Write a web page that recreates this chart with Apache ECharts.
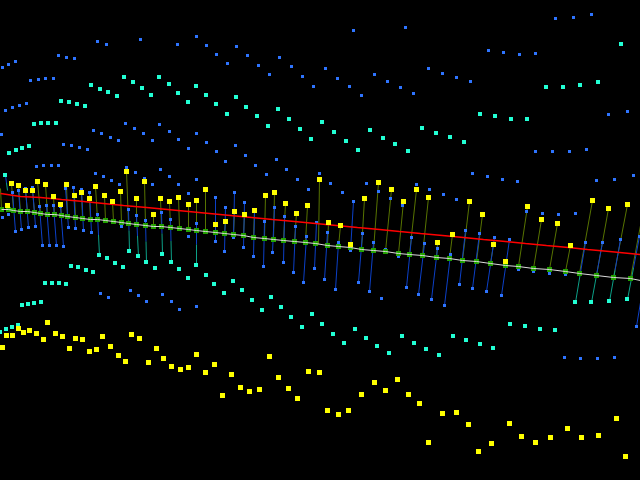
<!DOCTYPE html>
<html>
<head>
<meta charset="utf-8">
<style>
  html, body { margin: 0; padding: 0; background: #000; }
  #chart { width: 640px; height: 480px; }
</style>
<script src="https://cdn.jsdelivr.net/npm/echarts@6/dist/echarts.min.js"></script>
</head>
<body>
<div id="chart"></div>
<script>
// projected positions, [x, y]
const bluePoints = [
  [2,67],[8,64],[15,61],[58,55],[66,57],[74,58],[97,41],[106,44],[140,39],[177,44],[196,36],[206,45],
  [30,80],[38,79],[45,78],[53,78],[5,110],[12,107],[19,105],[26,103],[1,134],[63,144],[71,145],[79,147],[87,149],
  [93,130],[101,133],[110,137],[118,140],[125,123],[134,128],[143,133],[152,140],[159,124],[169,131],[178,139],[188,148],
  [196,133],[206,142],[353,30],[405,27],[236,46],[216,54],[247,55],[227,63],[258,65],[269,74],
  [279,57],[291,66],[302,76],[313,86],[325,68],[337,78],[349,86],[361,95],[374,74],[387,81],[400,87],[413,93],
  [235,145],[216,151],[245,155],[276,159],[555,18],[573,17],[591,14],[488,50],[503,52],[519,54],[535,53],
  [428,68],[442,73],[456,77],[470,81],[608,114],[627,111],[535,151],[552,151],[569,151],[586,149],
  [36,166],[43,165],[51,165],[58,165],[95,173],[103,176],[111,180],[119,184],[126,167],[135,172],[144,178],[152,184],
  [160,169],[169,176],[178,184],[188,193],[196,179],[32,187],[25,188],[73,187],[65,188],[81,189],[89,192],[97,214],[12,192],[18,190],
  [39,206],[46,205],[53,205],[60,206],[2,217],[8,214],[15,231],[21,229],[28,227],[35,226],[42,245],[49,245],[56,245],[63,246],
  [68,227],[75,228],[83,230],[91,232],[121,226],[128,209],[136,215],[145,220],[161,212],[170,219],[196,223],[188,236],
  [100,293],[108,297],[130,290],[138,295],[146,301],[162,294],[171,301],[179,309],[196,306],
  [225,161],[255,165],[286,169],[266,174],[297,179],[308,189],[319,173],[330,183],[342,192],[366,183],[378,191],[390,198],[402,205],[416,184],
  [215,197],[234,192],[244,202],[225,207],[264,221],[274,207],[284,216],[295,226],[306,236],[316,222],[327,232],[338,242],[353,201],[362,233],[373,242],[385,249],[398,256],[411,237],[424,243],
  [215,241],[224,251],[233,237],[243,247],[253,256],[263,266],[272,252],[283,262],[293,272],[303,282],[314,268],[324,279],[335,289],[350,250],[358,282],[369,291],[381,298],[406,287],[418,294],
  [429,189],[443,194],[456,199],[472,173],[487,176],[502,179],[517,181],[596,180],[614,179],[633,175],
  [465,230],[479,233],[494,237],[509,239],[542,213],[558,214],[575,213],[526,211],[437,248],[450,254],[585,242],[602,242],[620,239],[639,236],
  [431,299],[444,305],[459,284],[472,288],[486,291],[501,295],[518,269],[533,271],[549,273],[565,274],
  [564,357],[580,358],[597,358],[614,357],[636,326]
];
const tealPoints = [
  [91,85],[100,89],[108,92],[117,96],[124,77],[133,82],[142,88],[151,95],[159,77],[169,84],[178,93],[188,102],[196,86],[206,95],
  [61,101],[69,102],[77,104],[85,106],[34,124],[41,123],[48,123],[56,123],[9,153],[16,150],[22,148],[29,146],
  [216,104],[236,97],[246,107],[227,114],[257,116],[268,126],[278,109],[289,119],[300,129],[311,139],[322,122],[334,132],[346,141],[358,150],
  [370,130],[383,138],[395,144],[408,151],[422,128],[621,44],[546,87],[563,87],[580,85],[598,82],
  [480,114],[495,116],[511,119],[527,119],[436,133],[450,137],[464,142],[5,175],
  [99,255],[107,258],[115,263],[123,267],[129,251],[138,256],[146,262],[155,268],[162,254],[171,262],[179,269],[188,278],[196,265],[206,275],[214,284],
  [71,266],[78,267],[86,270],[93,272],[45,283],[52,283],[59,283],[66,284],[22,305],[28,304],[34,303],[41,302],
  [224,293],[233,281],[242,290],[252,300],[262,310],[271,297],[281,307],[291,317],[312,314],
  [575,302],[591,302],[609,301],[627,299],[0,332],[6,329],[12,327],[18,325],
  [302,327],[322,324],[333,334],[344,343],[355,329],[366,338],[377,346],[389,353],[402,336],[414,343],[426,349],
  [439,355],[453,336],[466,340],[480,344],[493,348],[510,324],[525,326],[540,329],[555,330]
];
const yellowPoints = [
  [11,183],[18,185],[25,190],[32,190],[7,205],[37,181],[45,184],[53,196],[60,204],[66,184],[74,195],[81,192],[89,198],
  [95,186],[104,195],[112,201],[126,171],[120,191],[136,198],[144,181],[153,214],[160,198],[169,201],[178,197],[188,204],[196,200],[205,189],
  [215,224],[225,221],[234,211],[244,214],[254,210],[265,195],[274,192],[285,203],[296,213],[307,205],[319,179],[328,222],[340,225],[350,244],
  [364,198],[378,182],[391,189],[403,201],[416,189],[428,197],[469,201],[482,214],[452,234],[437,242],[493,244],[505,261],
  [527,206],[541,219],[557,223],[570,245],[592,200],[608,208],[627,204],
  [47,322],[18,328],[23,332],[29,330],[36,333],[43,339],[6,335],[12,335],[55,333],[62,336],[75,338],[82,339],[102,336],[131,334],[139,338],
  [2,347],[69,348],[89,351],[96,349],[110,346],[118,355],[125,361],[156,348],[163,358],[171,366],[180,369],[188,367],[196,354],[205,372],[148,362],[214,364],
  [269,356],[231,374],[222,395],[240,387],[249,391],[259,389],[278,377],[288,388],[297,398],[308,371],[319,372],[327,410],[338,414],[348,410],
  [361,394],[374,382],[385,390],[397,379],[408,394],[419,403],[428,442],
  [442,413],[456,412],[468,424],[478,451],[491,443],[509,423],[521,436],[535,442],[550,437],[567,428],[581,437],[598,435],[616,418],[625,456]
];

// the two long lines
const redLine = [
  [0,193],[20,196],[40,197],[61,199],[83,201],[103,203],[123,205],[146,207],[167,209],[188,211],[209,213],[230,215],[251,217],[272,219],[294,221],[315,223],
  [336,225],[357,227],[379,229],[399,231],[420,233],[442,235],[463,237],[483,239],[505,241],[525,243],[546,245],[568,247],[587,249],[609,251],[640,254]
];
const greenLine = [
  [1,209],[8,209],[13,210],[20,211],[27,211],[34,212],[40,213],[47,214],[54,214],[61,215],[67,216],[75,217],[82,218],[90,219],[97,219],[105,220],
  [113,221],[121,222],[128,223],[136,224],[145,225],[153,226],[161,226],[170,227],[179,228],[188,229],[196,230],[205,231],[215,232],[224,233],[233,234],[243,235],
  [253,237],[264,238],[273,239],[283,240],[294,241],[305,242],[315,243],[327,245],[338,246],[350,247],[361,249],[373,250],[385,251],[398,253],[409,254],[422,255],
  [436,257],[449,258],[462,260],[476,261],[490,263],[505,265],[518,266],[533,268],[549,269],[565,271],[579,273],[596,275],[613,277],[630,278],[640,280]
];

// stems, [x1, y1, x2, y2]
const oliveStems = [
  [0,188,1,209],[7,205,8,209],[11,183,13,210],[18,185,20,211],[25,190,27,211],[32,190,34,212],[37,181,40,213],[45,184,47,214],[53,196,54,214],[60,204,61,215],
  [66,184,67,216],[74,195,75,217],[81,192,82,218],[89,198,90,219],[95,186,97,219],[104,195,105,220],[112,201,113,221],[120,191,121,222],[126,171,128,223],[136,198,136,224],
  [144,181,145,225],[153,214,153,226],[160,198,161,226],[169,201,170,227],[178,197,179,228],[188,204,188,229],[196,200,196,230],[205,189,205,231],[215,224,215,232],[225,221,224,233],
  [234,211,233,234],[244,214,243,235],[254,210,253,237],[265,195,264,238],[274,192,273,239],[285,203,283,240],[296,213,294,241],[307,205,305,242],[319,179,318,244],[328,222,327,245],
  [340,225,338,246],[350,244,350,247],[364,198,361,249],[378,182,373,250],[391,189,385,251],[403,201,398,253],[416,189,409,254],[428,197,422,255],[437,242,436,257],[452,234,449,258],
  [469,201,462,260],[482,214,476,261],[493,244,490,263],[505,261,505,265],[527,206,518,266],[541,219,533,268],[557,223,549,269],[570,245,565,271],[592,200,579,273],[608,208,596,275],
  [627,204,613,277],[640,225,630,278]
];
const blueStems = [
  [12,192,15,231],[18,190,21,229],[25,188,28,227],[32,187,35,226],[39,206,42,245],[46,205,49,245],[53,205,56,245],[60,206,63,246],
  [65,188,68,227],[73,187,75,228],[81,189,83,230],[89,192,91,232],
  [215,197,215,241],[225,207,224,251],[234,192,233,237],[244,202,243,247],[254,212,253,256],[264,221,263,266],[274,207,272,252],[284,216,283,262],
  [295,226,293,272],[306,236,303,282],[316,222,314,268],[327,232,324,279],[338,242,335,289],[353,201,350,250],[362,233,358,282],[373,242,369,291],
  [411,237,406,287],[424,243,418,294],[437,248,431,299],[450,254,444,305],[465,230,459,284],[479,233,472,288],[494,237,486,291],[509,239,501,295],
  [641,296,636,326]
];
// these run from blue above the line to teal below it
const tealStems = [
  [5,175,7,190],[97,214,99,255],[128,209,129,251],[136,215,138,256],[145,220,146,262],[161,212,162,254],[170,219,171,262],[196,223,196,265],
  [585,242,575,302],[602,242,591,302],[620,239,609,301],[639,236,627,299]
];

const BLUE = '#2e74ff';
const TEAL = '#22ffd4';
const YELLOW = '#ffff00';
const STEM_BLUE = '#0c40c8';
const STEM_TEAL = '#0ca088';
const STEM_OLIVE = '#587400';

const stemSeries = (data, color) => ({
  type: 'custom',
  silent: true,
  data,
  z: 1,
  renderItem: (params, api) => {
    const a = api.coord([api.value(0), api.value(1)]);
    const b = api.coord([api.value(2), api.value(3)]);
    return {
      type: 'line',
      shape: { x1: a[0], y1: a[1], x2: b[0], y2: b[1] },
      style: { stroke: color, lineWidth: 1, fill: null }
    };
  }
});

const tealStemSeries = (data) => ({
  type: 'custom',
  silent: true,
  data,
  z: 1,
  renderItem: (params, api) => {
    const a = api.coord([api.value(0), api.value(1)]);
    const b = api.coord([api.value(2), api.value(3)]);
    const mid = [(a[0] + b[0]) / 2, (a[1] + b[1]) / 2];
    return {
      type: 'group',
      children: [
        { type: 'line', shape: { x1: a[0], y1: a[1], x2: mid[0], y2: mid[1] }, style: { stroke: STEM_BLUE, lineWidth: 1 } },
        { type: 'line', shape: { x1: mid[0], y1: mid[1], x2: b[0], y2: b[1] }, style: { stroke: STEM_TEAL, lineWidth: 1 } }
      ]
    };
  }
});

const chart = echarts.init(document.getElementById('chart'));
chart.setOption({
  backgroundColor: '#000',
  animation: false,
  tooltip: { show: false },
  grid: { left: 0, right: 0, top: 0, bottom: 0 },
  xAxis: { type: 'value', min: -0.5, max: 639.5, show: false },
  yAxis: { type: 'value', min: -0.5, max: 479.5, inverse: true, show: false },
  series: [
    stemSeries(oliveStems, STEM_OLIVE),
    stemSeries(blueStems, STEM_BLUE),
    tealStemSeries(tealStems),
    { type: 'scatter', data: bluePoints, symbol: 'rect', symbolSize: 3, itemStyle: { color: BLUE, opacity: 1 }, silent: true, z: 2 },
    { type: 'scatter', data: tealPoints, symbol: 'rect', symbolSize: 4, symbolOffset: [-0.5, -0.5], itemStyle: { color: TEAL, opacity: 1 }, silent: true, z: 2 },
    { type: 'scatter', data: greenLine.slice(0, -1), symbol: 'rect', symbolSize: 5, itemStyle: { color: '#22a000', opacity: 1 }, silent: true, z: 3 },
    { type: 'line', data: greenLine, symbol: 'none', lineStyle: { color: '#dcdcdc', width: 1 }, silent: true, z: 4 },
    { type: 'line', data: redLine, symbol: 'none', lineStyle: { color: '#ff0000', width: 1.5 }, silent: true, z: 4 },
    { type: 'scatter', data: yellowPoints, symbol: 'rect', symbolSize: 5, itemStyle: { color: YELLOW, opacity: 1 }, silent: true, z: 5 }
  ]
});
</script>
</body>
</html>
